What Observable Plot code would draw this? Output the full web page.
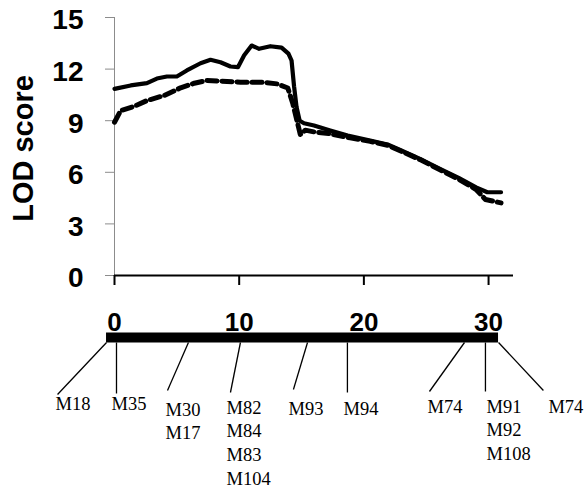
<!DOCTYPE html>
<html>
<head>
<meta charset="utf-8">
<script src="https://cdn.jsdelivr.net/npm/d3@7"></script>
<script src="https://cdn.jsdelivr.net/npm/@observablehq/plot@0.6"></script>
<style>
  html, body { margin: 0; padding: 0; background: white; }
  #chart svg { display: block; }
</style>
</head>
<body>
<div id="chart"></div>
<script>
// ---- Data ----
const yTicks = [0, 3, 6, 9, 12, 15];
const xTicks = [0, 10, 20, 30];

// solid LOD curve
const mainPos = [0, 1.3, 2.6, 3.4, 4.2, 5.0, 5.8, 6.9, 7.7, 8.5, 9.3, 9.9, 10.4, 11.0, 11.6, 12.5, 13.4, 13.95, 14.2, 14.4, 14.6, 14.85, 15.2, 16.0, 17.3, 18.7, 20.5, 21.9, 23.0, 24.5, 26.1, 27.6, 29.0, 29.9, 31.0];
const mainLod = [10.85, 11.05, 11.18, 11.45, 11.57, 11.57, 11.92, 12.34, 12.54, 12.4, 12.15, 12.11, 12.8, 13.37, 13.18, 13.33, 13.25, 12.9, 12.5, 11.0, 9.8, 9.0, 8.85, 8.72, 8.43, 8.14, 7.85, 7.62, 7.27, 6.78, 6.2, 5.68, 5.12, 4.84, 4.84];

// dashed LOD curve
const altPos = [0, 0.5, 1.55, 2.6, 4.0, 5.3, 6.4, 7.4, 8.5, 10.1, 11.7, 13.05, 13.9, 14.3, 14.6, 14.9, 15.3, 16.0, 17.3, 18.9, 20.5, 21.9, 23.0, 24.5, 26.1, 27.6, 29.0, 29.75, 31.0];
const altLod = [8.91, 9.59, 9.83, 10.17, 10.47, 10.91, 11.18, 11.34, 11.3, 11.24, 11.24, 11.14, 10.9, 10.0, 9.1, 8.2, 8.45, 8.35, 8.24, 8.0, 7.8, 7.57, 7.22, 6.74, 6.15, 5.6, 5.0, 4.42, 4.22];

// marker map
const markerNames = [["M18"], ["M35"], ["M30", "M17"], ["M82", "M84", "M83", "M104"], ["M93"], ["M94"], ["M74"], ["M91", "M92", "M108"], ["M74"]];
const markerPos = [-0.64, 0.16, 5.93, 10.1, 15.48, 18.68, 28.07, 29.75, 30.8];

// ---- Layout of the marker labels (cM for x, px for y) ----
const labelLeft = [-4.73, -0.24, 4.09, 8.98, 13.95, 18.36, 25.1, 29.83, 34.8];
const leaderEndX = [-4.57, 0.16, 4.25, 9.30, 14.35, 18.68, 25.26, 29.75, 34.4];
const leaderEndY = [94, 93, 90, 92, 89, 92, 91, 91, 90];
const firstBaseline = [109, 109, 115, 113, 114, 114, 112, 112, 112];
const lineStep = 23.8;

const sans = "'Liberation Sans', Arial, Helvetica, sans-serif";
const serif = "'Liberation Serif', 'Times New Roman', Times, serif";

const topPlot = Plot.plot({
  width: 586, height: 300,
  marginLeft: 114, marginRight: 73, marginTop: 17, marginBottom: 25,
  x: {domain: [0, 32]},
  y: {domain: [0, 15]},
  style: {background: "white", fontFamily: sans, color: "black"},
  marks: [
    Plot.ruleX([0], {stroke: "#8c8c8c", strokeWidth: 1}),
    Plot.axisY({ticks: yTicks, tickSize: 9, fill: "none", stroke: "#8c8c8c", label: null}),
    Plot.axisY({ticks: yTicks, tickSize: 0, tickPadding: 31, stroke: "none", fill: "black", fontSize: 28, fontWeight: "bold", dy: 3, label: null, tickFormat: d => String(d)}),
    Plot.ruleY([0], {stroke: "black", strokeWidth: 2}),
    Plot.axisX({ticks: xTicks, tickSize: 10, fill: "none", stroke: "black", strokeWidth: 2, label: null}),
    Plot.line(altPos, {x: altPos, y: altLod, stroke: "black", strokeWidth: 5, strokeDasharray: "10,5"}),
    Plot.line(mainPos, {x: mainPos, y: mainLod, stroke: "black", strokeWidth: 4.2, strokeLinejoin: "round"}),
    Plot.text(["LOD score"], {text: d => d, frameAnchor: "left", dx: -90.5, dy: 2, rotate: -90, fontSize: 29, fontWeight: "bold", textAnchor: "middle", lineAnchor: "middle", fill: "black"})
  ]
});

const idx = markerPos.map((_, i) => i);
const labelLines = idx.flatMap(i => markerNames[i].map((name, j) => ({name, x: labelLeft[i], y: firstBaseline[i] + j * lineStep})));

const mapPlot = Plot.plot({
  width: 586, height: 190,
  marginLeft: 114, marginRight: 73, marginTop: 0, marginBottom: 0,
  x: {domain: [0, 32], axis: null},
  y: {domain: [0, 190], range: [0, 190], axis: null},
  style: {background: "white", fontFamily: sans, color: "black"},
  marks: [
    Plot.ruleY([37], {x1: d3.min(markerPos), x2: d3.max(markerPos), stroke: "black", strokeWidth: 10}),
    Plot.text(xTicks, {x: d => d, y: 30, text: d => String(d), fontSize: 26, fontWeight: "bold", lineAnchor: "bottom", fill: "black"}),
    Plot.link(idx, {x1: i => markerPos[i], y1: 42, x2: i => leaderEndX[i], y2: i => leaderEndY[i], stroke: "black", strokeWidth: 1.3}),
    Plot.text(labelLines, {x: "x", y: "y", text: "name", textAnchor: "start", lineAnchor: "bottom", fontFamily: serif, fontSize: 18.5, fill: "black"})
  ]
});

const chart = document.getElementById("chart");
chart.appendChild(topPlot);
chart.appendChild(mapPlot);
</script>
</body>
</html>
